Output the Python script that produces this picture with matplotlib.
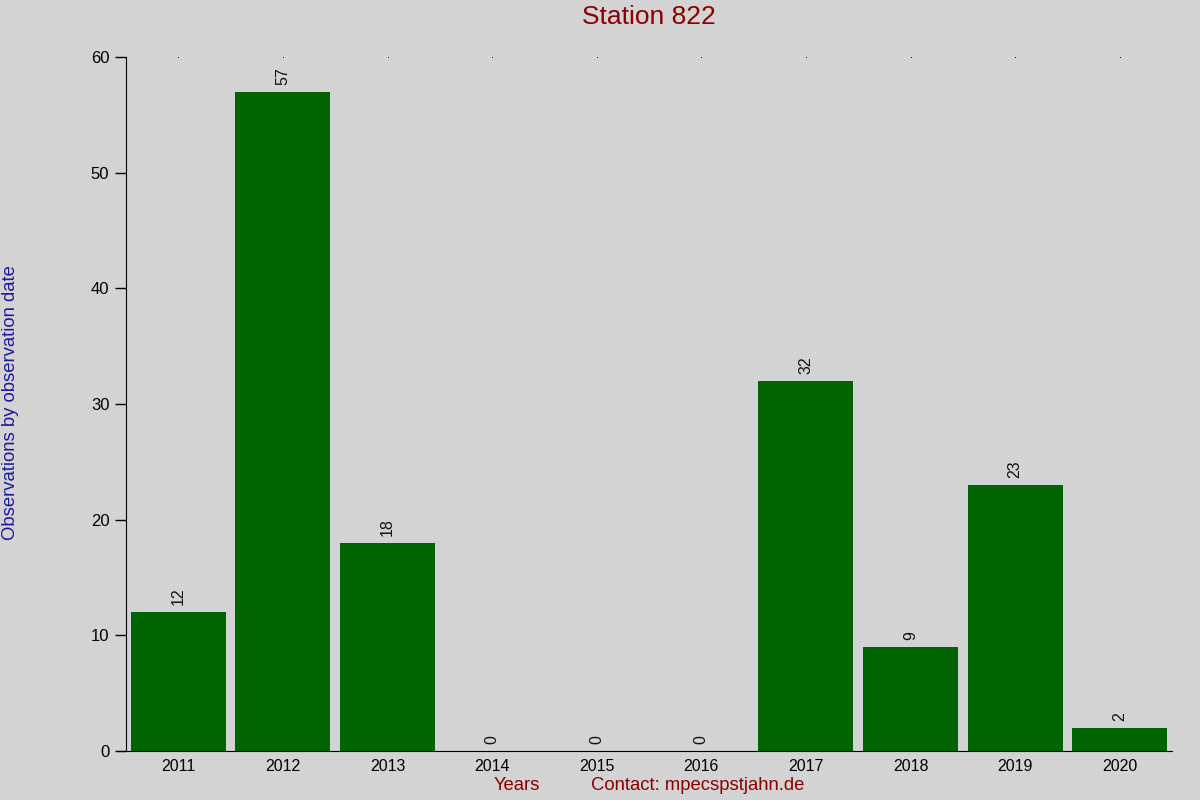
import numpy as np
import matplotlib.pyplot as plt

plt.rcParams['font.family'] = ['Liberation Sans', 'DejaVu Sans']

years = ['2011', '2012', '2013', '2014', '2015', '2016', '2017', '2018', '2019', '2020']
obs = [12, 57, 18, 0, 0, 0, 32, 9, 23, 2]

bg = '#d3d3d3'
fig = plt.figure(figsize=(12, 8), dpi=100, facecolor=bg)
ax = fig.add_axes([126/1200, 1-751/800, (1172-126)/1200, (751-57)/800])
ax.set_facecolor(bg)

x = np.arange(len(years))
ax.bar(x, obs, width=0.91, color='#006400')
for xi, v in zip(x, obs):
    ax.text(xi, v + 0.6, str(v), rotation=90, ha='center', va='bottom', fontsize=11.5, color='#111111')

# tiny dots on top at each bar position
ax.plot(x, [60]*len(x), ls='none', marker='s', ms=0.6, mew=0, color='black', clip_on=False)

ax.set_xlim(-0.5, len(years) - 0.5)
ax.set_ylim(0, 60)
ax.set_yticks(range(0, 61, 10))
ax.set_xticks(x)
ax.set_xticklabels(years)
ax.tick_params(axis='x', length=0, pad=6, labelsize=11.5)
ax.tick_params(axis='y', length=8, width=1, pad=4, labelsize=12)
for s in ['top', 'right']:
    ax.spines[s].set_visible(False)
ax.spines['bottom'].set_bounds(-0.58, len(years) - 0.5)

fig.text(649/1200, 1-17/800, 'Station 822', ha='center', va='center', fontsize=19, color='#8b0000')
fig.text(11/1200, 1-403/800, 'Observations by observation date', rotation=90, ha='center', va='center',
         fontsize=13.3, color='#1a1a9a')
fig.text(517/1200, 1-786/800, 'Years', ha='center', va='center', fontsize=13.3, color='#8b0000')
fig.text(591/1200, 1-786/800, 'Contact: mpecspstjahn.de', ha='left', va='center', fontsize=13.3, color='#8b0000')

fig.savefig('out.png', facecolor=bg)
